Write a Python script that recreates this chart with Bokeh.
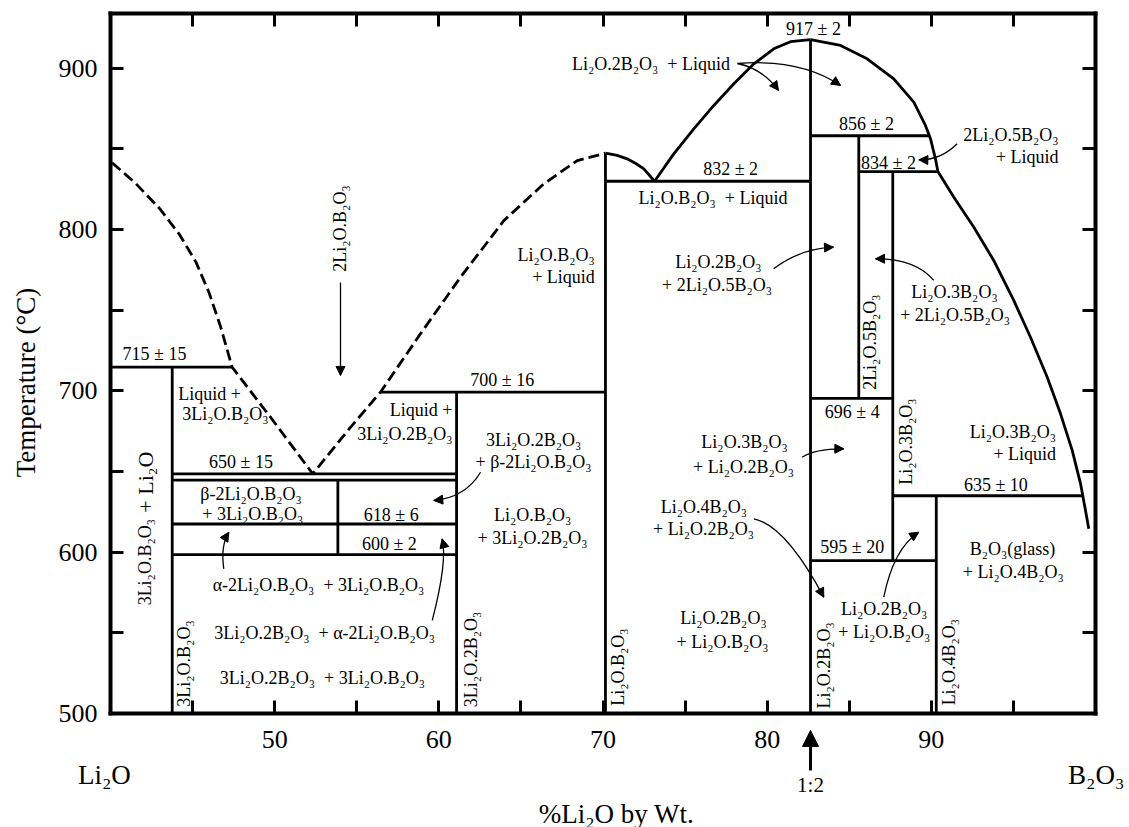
import math
from bokeh.plotting import figure
from bokeh.models import (ColumnDataSource, FixedTicker, LinearAxis, Range1d,
                          Arrow, NormalHead, CustomJSTickFormatter)
from bokeh.core.properties import value
from bokeh.embed import file_html
from bokeh.resources import INLINE

FONT = "Liberation Serif"

# ---------------- axes ----------------
x_lim = (40, 100)
y_lim = (500, 934)
x_ticks = [50, 60, 70, 80, 90]
x_minor = [45, 55, 65, 75, 85, 95]
y_ticks = [500, 600, 700, 800, 900]
y_minor = [550, 650, 750, 850]

# ---------------- phase boundaries: straight tie lines (x: wt%, y: degC) ----------------
tie_x0 = [40.0, 43.76, 43.76, 43.76, 43.76, 56.45, 70.15, 82.64, 85.58, 82.64, 87.65, 82.64,
          43.76, 53.85, 61.08, 70.15, 82.64, 85.58, 87.65, 90.30]
tie_y0 = [714.7, 648.6, 644.7, 617.5, 598.5, 699.3, 830.0, 858.2, 836.0, 695.4, 635.0, 594.8,
          714.7, 644.7, 699.3, 847.4, 917.8, 858.2, 836.0, 635.0]
tie_x1 = [47.41, 61.08, 61.08, 61.08, 61.08, 70.15, 82.64, 89.85, 90.40, 87.65, 99.19, 90.30,
          43.76, 53.85, 61.08, 70.15, 82.64, 85.58, 87.65, 90.30]
tie_y1 = [714.7, 648.6, 644.7, 617.5, 598.5, 699.3, 830.0, 858.2, 836.0, 695.4, 635.0, 594.8,
          500.0, 598.5, 500.0, 500.0, 500.0, 695.4, 594.8, 500.0]

# ---------------- liquidus curves ----------------
dash_x = [40.1, 41.5, 43.0, 44.2, 45.2, 46.0, 46.7, 47.41, 49.8, 52.32, 54.5, 56.45,
          58.88, 61.32, 63.96, 66.39, 68.43, 70.15]
dash_y = [841.5, 829.0, 813.0, 797.0, 780.0, 761.0, 740.0, 714.7, 683.0, 648.6, 676.0, 699.3,
          735.4, 770.5, 805.6, 828.4, 842.8, 847.4]

dome_x = [70.15, 70.86, 71.47, 72.0, 72.49, 73.14]
dome_y = [847.4, 846.0, 843.9, 841.0, 837.7, 830.0]

rise_x = [73.14, 74.31, 75.53, 76.75, 77.97, 79.19, 80.40, 81.42, 82.64]
rise_y = [830.0, 847.0, 862.5, 877.0, 890.4, 902.8, 912.1, 916.5, 917.8]

fall_x = [82.64, 84.47, 86.09, 87.71, 88.93, 89.64, 89.95, 90.25, 90.40, 91.37, 92.59, 93.80,
          95.02, 96.04, 97.06, 97.87, 98.58, 99.09, 99.39, 99.59]
fall_y = [917.8, 914.2, 905.9, 893.5, 879.0, 864.6, 856.3, 843.9, 836.0, 820.1, 801.5, 780.9,
          756.1, 733.3, 708.5, 685.8, 663.1, 642.4, 625.9, 614.5]

# ---------------- pointer arrows (start, control, end) ----------------
arr_x0 = [54.01, 78.19, 78.19, 91.57, 80.39, 90.15, 82.13, 79.19, 87.10, 62.54, 46.90, 59.60]
arr_y0 = [767.2, 903.0, 903.0, 853.2, 775.7, 768.5, 658.9, 620.7, 572.1, 649.6, 589.7, 557.7]
arr_cx = [54.01, 79.71, 82.03, 90.56, 82.03, 89.03, 82.94, 81.12, 87.70, 61.62, 46.70, 60.54]
arr_cy = [738.4, 899.9, 906.1, 842.9, 788.3, 782.1, 664.3, 616.6, 602.3, 633.9, 604.2, 594.9]
arr_x1 = [54.01, 80.69, 84.47, 89.24, 84.04, 86.60, 84.67, 83.45, 89.23, 59.69, 47.21, 60.20]
arr_y1 = [709.6, 886.3, 889.4, 843.3, 789.1, 781.9, 664.1, 572.1, 612.4, 632.1, 612.4, 608.3]

# ---------------- region / value labels ----------------
NB = "\u00a0"
c_text = ["715 ± 15", "Liquid +", "3Li₂O.B₂O₃", "650 ± 15", "β-2Li₂O.B₂O₃", "+ 3Li₂O.B₂O₃",
          "618 ± 6", "600 ± 2",
          "α-2Li₂O.B₂O₃ " + NB + "+ 3Li₂O.B₂O₃",
          "3Li₂O.2B₂O₃ " + NB + "+ α-2Li₂O.B₂O₃",
          "3Li₂O.2B₂O₃ " + NB + "+ 3Li₂O.B₂O₃",
          "700 ± 16", "3Li₂O.2B₂O₃", "+ β-2Li₂O.B₂O₃", "Li₂O.B₂O₃", "+ 3Li₂O.2B₂O₃",
          "Li₂O.2B₂O₃ " + NB + "+ Liquid", "832 ± 2", "Li₂O.B₂O₃ " + NB + "+ Liquid",
          "Li₂O.2B₂O₃", "+ 2Li₂O.5B₂O₃", "Li₂O.3B₂O₃", "+ Li₂O.2B₂O₃",
          "Li₂O.4B₂O₃", "+ Li₂O.2B₂O₃", "Li₂O.2B₂O₃", "+ Li₂O.B₂O₃",
          "917 ± 2", "856 ± 2", "834 ± 2", "Li₂O.3B₂O₃", "+ 2Li₂O.5B₂O₃", "696 ± 4",
          "635 ± 10", "595 ± 20", "B₂O₃(glass)", "+ Li₂O.4B₂O₃", "Li₂O.2B₂O₃", "+ Li₂O.B₂O₃"]
c_x = [42.68, 46.03, 47.0, 47.95, 48.56, 48.67, 57.10, 56.99, 52.67, 53.04, 52.91,
       63.86, 65.77, 65.77, 65.71, 65.71, 72.92, 77.77, 76.70, 77.03, 76.95, 78.62, 78.56,
       76.15, 76.12, 77.34, 77.28, 82.82, 86.05, 87.39, 91.41, 91.45, 85.18, 93.93, 85.18,
       94.94, 94.99, 87.13, 87.13]
c_y = [722.6, 698.4, 686.0, 655.8, 636.2, 623.8, 622.8, 604.8, 579.4, 550.2, 522.3,
       706.5, 669.7, 655.8, 622.8, 608.9, 902.8, 837.7, 819.7, 779.8, 765.4, 668.6, 653.1,
       628.3, 614.7, 559.5, 544.6, 924.5, 865.2, 841.4, 761.2, 746.8, 686.8, 641.4, 603.5,
       602.1, 587.6, 564.9, 550.4]

r_text = ["Liquid +", "3Li₂O.2B₂O₃", "Li₂O.B₂O₃", "+ Liquid", "2Li₂O.5B₂O₃", "+ Liquid",
          "Li₂O.3B₂O₃", "+ Liquid"]
r_x = [60.83, 60.83, 69.5, 69.5, 97.75, 97.75, 97.6, 97.6]
r_y = [687.9, 673.6, 784.0, 770.5, 858.4, 844.9, 674.4, 661.0]

v_text = ["2Li₂O.B₂O₃", "3Li₂O.B₂O₃", "+ Li₂O", "3Li₂O.B₂O₃", "3Li₂O.2B₂O₃", "Li₂O.B₂O₃",
          "2Li₂O.5B₂O₃", "Li₂O.3B₂O₃", "Li₂O.2B₂O₃", "Li₂O.4B₂O₃"]
v_x = [54.01, 42.13, 42.13, 44.47, 61.93, 70.94, 86.29, 88.43, 83.45, 91.06]
v_y = [800.7, 593.8, 643.4, 531.0, 533.5, 528.8, 730.2, 668.6, 529.8, 531.8]
v_size = ["18px", "18px", "22px", "18px", "18px", "18px", "18px", "18px", "18px", "18px"]

# end-member labels below the axis
end_text = ["Li₂O", "B₂O₃", "1:2"]
end_x = [39.63, 100.04, 82.64]
end_y = [461.6, 461.6, 455.4]
end_size = ["27px", "27px", "21px"]
ratio_arrow_x = 82.64
ratio_arrow_y = [464.7, 489.5]

# ---------------- figure (frame covers the whole canvas; axes fixed at the box edges) -------
p = figure(width=1129, height=827, x_range=Range1d(33.30, 102.07),
           y_range=Range1d(429.32, 942.06),
           output_backend="svg", toolbar_location=None,
           min_border_left=0, min_border_right=0, min_border_top=0, min_border_bottom=0,
           background_fill_color="white", border_fill_color="white")
p.xgrid.visible = False
p.ygrid.visible = False
p.outline_line_color = None
p.title.visible = False


def style_axis(ax, ticks, minor, labels):
    ax.ticker = FixedTicker(ticks=ticks, minor_ticks=minor)
    ax.axis_line_color = "black"
    ax.axis_line_width = 4
    ax.axis_line_cap = "square"
    ax.major_tick_in = 13
    ax.major_tick_out = 0
    ax.major_tick_line_width = 3
    ax.minor_tick_in = 13
    ax.minor_tick_out = 0
    ax.minor_tick_line_width = 3
    if labels:
        ax.major_label_text_font = FONT
        ax.major_label_text_font_size = "26px"
        ax.major_label_text_color = "black"
    else:
        ax.formatter = CustomJSTickFormatter(code="return ''")
        ax.major_label_text_font_size = "0px"
        ax.major_label_text_color = None
        ax.major_label_standoff = 0


xa = p.xaxis[0]
ya = p.yaxis[0]
style_axis(xa, x_ticks, x_minor, True)
style_axis(ya, y_ticks, y_minor, True)
xa.fixed_location = y_lim[0]
xa.bounds = x_lim
ya.fixed_location = x_lim[0]
ya.bounds = y_lim
xa.major_label_standoff = 17
ya.major_label_standoff = 13

top = LinearAxis(fixed_location=y_lim[1], bounds=x_lim)
right = LinearAxis(fixed_location=x_lim[1], bounds=y_lim)
style_axis(top, x_ticks, x_minor, False)
style_axis(right, y_ticks, y_minor, False)
p.add_layout(top, "above")
p.add_layout(right, "right")


def title_axis(ax, text, standoff):
    ax.ticker = FixedTicker(ticks=[])
    ax.axis_line_color = None
    ax.major_tick_line_color = None
    ax.minor_tick_line_color = None
    ax.major_label_text_color = None
    ax.major_label_text_font_size = "0px"
    ax.major_label_standoff = 0
    ax.axis_label = text
    ax.axis_label_text_font = FONT
    ax.axis_label_text_font_size = "27px"
    ax.axis_label_text_font_style = "normal"
    ax.axis_label_text_color = "black"
    ax.axis_label_standoff = standoff


# axis titles (centred where the reference puts them)
x_title = LinearAxis(fixed_location=y_lim[0], bounds=(41.64, 100))
title_axis(x_title, "%Li₂O by Wt.", 85)
y_title = LinearAxis(fixed_location=x_lim[0], bounds=(476.4, 934))
title_axis(y_title, "Temperature (°C)", 70)
p.add_layout(x_title, "below")
p.add_layout(y_title, "left")

LW = 2.8
p.segment(x0=tie_x0, y0=tie_y0, x1=tie_x1, y1=tie_y1, line_color="black", line_width=LW)
p.line(dash_x, dash_y, line_color="black", line_width=LW, line_dash="11 5")
p.line(dome_x, dome_y, line_color="black", line_width=LW, line_join="round")
p.line(rise_x, rise_y, line_color="black", line_width=LW, line_join="round")
p.line(fall_x, fall_y, line_color="black", line_width=LW, line_join="round")

# curved pointer arrows
asrc = ColumnDataSource(dict(x0=arr_x0, y0=arr_y0, cx=arr_cx, cy=arr_cy, x1=arr_x1, y1=arr_y1))
p.quadratic(x0="x0", y0="y0", x1="x1", y1="y1", cx="cx", cy="cy", source=asrc,
            line_color="black", line_width=1.3)
p.add_layout(Arrow(end=NormalHead(size=9, fill_color="black", line_color="black", line_width=1),
                   x_start="cx", y_start="cy", x_end="x1", y_end="y1", source=asrc,
                   line_alpha=0.0))

# labels
csrc = ColumnDataSource(dict(x=c_x, y=c_y, text=c_text))
p.text(x="x", y="y", text="text", source=csrc, text_font=value(FONT), text_font_size="18px",
       text_align="center", text_baseline="middle", text_color="black")
rsrc = ColumnDataSource(dict(x=r_x, y=r_y, text=r_text))
p.text(x="x", y="y", text="text", source=rsrc, text_font=value(FONT), text_font_size="18px",
       text_align="right", text_baseline="middle", text_color="black")
vsrc = ColumnDataSource(dict(x=v_x, y=v_y, text=v_text, size=v_size))
p.text(x="x", y="y", text="text", source=vsrc, text_font=value(FONT), text_font_size="size",
       angle=math.pi / 2, text_align="center", text_baseline="middle", text_color="black")

esrc = ColumnDataSource(dict(x=end_x, y=end_y, text=end_text, size=end_size))
p.text(x="x", y="y", text="text", source=esrc, text_font=value(FONT), text_font_size="size",
       text_align="center", text_baseline="middle", text_color="black")
p.add_layout(Arrow(end=NormalHead(size=16, fill_color="black", line_color="black"),
                   x_start=ratio_arrow_x, y_start=ratio_arrow_y[0],
                   x_end=ratio_arrow_x, y_end=ratio_arrow_y[1],
                   line_color="black", line_width=3))

open("out.html", "w").write(file_html(p, INLINE))
